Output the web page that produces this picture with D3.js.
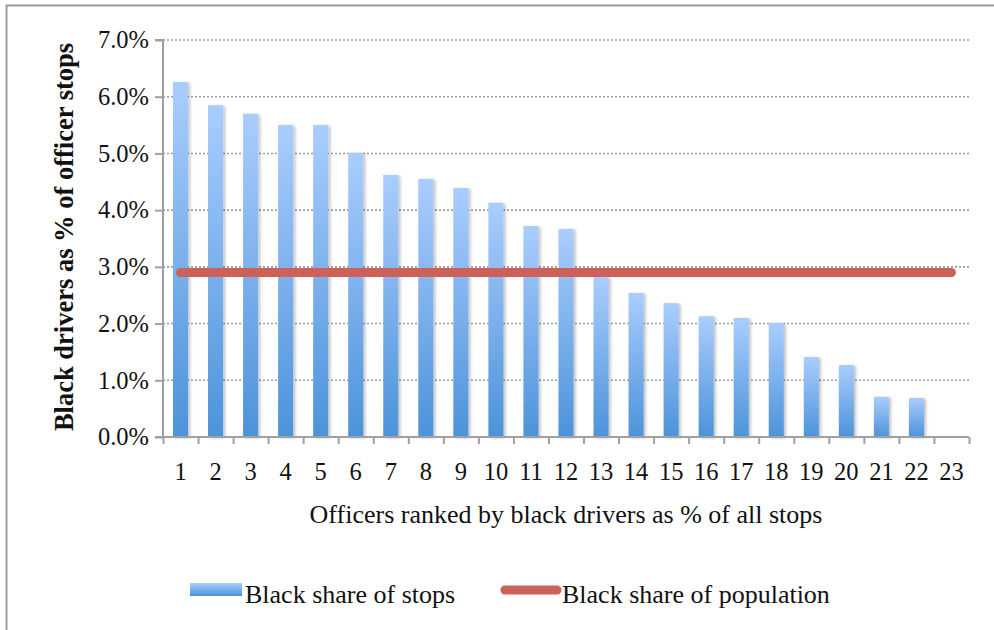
<!DOCTYPE html>
<html><head><meta charset="utf-8">
<script src="https://cdn.jsdelivr.net/npm/d3@7"></script>
<style>
html,body{margin:0;padding:0;background:#fff;}
svg{display:block;}
text{font-family:"Liberation Serif","Times New Roman",serif;fill:#111;}
</style></head>
<body>
<svg id="chart" width="994" height="630"></svg>
<script>
const categories = ["1","2","3","4","5","6","7","8","9","10","11","12","13","14","15","16","17","18","19","20","21","22","23"];
const stopsShare = [6.26,5.85,5.70,5.50,5.50,5.01,4.62,4.55,4.39,4.13,3.72,3.67,2.83,2.54,2.36,2.13,2.10,2.01,1.41,1.27,0.71,0.69,null];
const populationShare = [2.9,2.9,2.9,2.9,2.9,2.9,2.9,2.9,2.9,2.9,2.9,2.9,2.9,2.9,2.9,2.9,2.9,2.9,2.9,2.9,2.9,2.9,2.9];
const yTicks = [0,1,2,3,4,5,6,7];
const seriesNames = ["Black share of stops","Black share of population"];
const yTitle = "Black drivers as % of officer stops";
const xTitle = "Officers ranked by black drivers as % of all stops";

const svg = d3.select("#chart");
const pLeft = 163, pRight = 969, pTop = 40, pBottom = 437;

const x = d3.scaleBand().domain(categories).range([pLeft, pRight]).paddingInner(0.57).paddingOuter(0.285);
const xEdges = d3.scaleLinear().domain([0, categories.length]).range([pLeft, pRight]);
const y = d3.scaleLinear().domain([0, 7]).range([pBottom, pTop]);

const defs = svg.append("defs");
const grad = defs.append("linearGradient").attr("id","barGrad").attr("x1",0).attr("y1",0).attr("x2",0).attr("y2",1);
grad.append("stop").attr("offset","0%").attr("stop-color","#aacdfe");
grad.append("stop").attr("offset","100%").attr("stop-color","#4c93da");
const f = defs.append("filter").attr("id","shadow").attr("x","-30%").attr("y","-5%").attr("width","180%").attr("height","115%");
f.append("feDropShadow").attr("dx",2).attr("dy",1).attr("stdDeviation",1.5).attr("flood-color","#000").attr("flood-opacity",0.25);

// frame
svg.append("path").attr("d","M6.5,630 L6.5,5.5 L994,5.5").attr("fill","none").attr("stroke","#9a9a9a").attr("stroke-width",2);

// gridlines
svg.append("g").selectAll("line").data(yTicks.filter(d=>d>0)).join("line")
  .attr("x1", pLeft).attr("x2", pRight)
  .attr("y1", d=>y(d)).attr("y2", d=>y(d))
  .attr("stroke","#9c9c9c").attr("stroke-width",1.6).attr("stroke-dasharray","2,2");

// bars
svg.append("g").selectAll("rect").data(categories.map((c,i)=>({c, v: stopsShare[i]})).filter(d=>d.v!=null)).join("rect")
  .attr("x", d=>x(d.c)).attr("width", x.bandwidth())
  .attr("y", d=>y(d.v)).attr("height", d=>y(0)-y(d.v))
  .attr("fill","url(#barGrad)").attr("filter","url(#shadow)");

// y axis
const yAxis = d3.axisLeft(y).tickValues(yTicks).tickFormat(d=>d3.format(".1f")(d)+"%").tickSize(8).tickPadding(6);
const gy = svg.append("g").attr("transform",`translate(${pLeft},0)`).call(yAxis);
gy.select(".domain").attr("stroke","#a0a0a0").attr("stroke-width",2).attr("d",`M-8,${pTop}H0V${pBottom}H-8`);
gy.selectAll(".tick line").attr("stroke","#a0a0a0").attr("stroke-width",2);
gy.selectAll(".tick text").attr("font-size",24.5).attr("fill","#111").attr("font-family","Liberation Serif, serif");

// x axis
const xAxis = d3.axisBottom(xEdges).tickValues(d3.range(0, categories.length+1)).tickFormat("").tickSize(7);
const gx = svg.append("g").attr("transform",`translate(0,${pBottom})`).call(xAxis);
gx.select(".domain").attr("stroke","#a0a0a0").attr("stroke-width",2).attr("d",`M${pLeft},0H${pRight}`);
gx.selectAll(".tick line").attr("stroke","#a0a0a0").attr("stroke-width",2);
svg.append("g").selectAll("text").data(categories).join("text")
  .attr("x", d=>x(d)+x.bandwidth()/2).attr("y", 480)
  .attr("text-anchor","middle").attr("font-size",24.5).text(d=>d);

// population line
const line = d3.line().x((d,i)=>x(categories[i])+x.bandwidth()/2).y(d=>y(d));
svg.append("path").datum(populationShare).attr("d", line)
  .attr("fill","none").attr("stroke","#cd6058").attr("stroke-width",9).attr("stroke-linecap","round");

// titles
svg.append("text").attr("x", 566).attr("y", 523).attr("text-anchor","middle").attr("font-size",26).text(xTitle);
svg.append("text").attr("transform","translate(73,237) rotate(-90)").attr("text-anchor","middle")
  .attr("font-size",26.5).attr("font-weight","bold").text(yTitle);

// legend
svg.append("rect").attr("x",190).attr("y",583).attr("width",52).attr("height",13).attr("fill","url(#barGrad)");
svg.append("text").attr("x",245).attr("y",603).attr("font-size",26).text(seriesNames[0]);
svg.append("line").attr("x1",505).attr("x2",557).attr("y1",590).attr("y2",590)
  .attr("stroke","#cd6058").attr("stroke-width",9).attr("stroke-linecap","round");
svg.append("text").attr("x",562).attr("y",603).attr("font-size",26).text(seriesNames[1]);
</script>
</body></html>
